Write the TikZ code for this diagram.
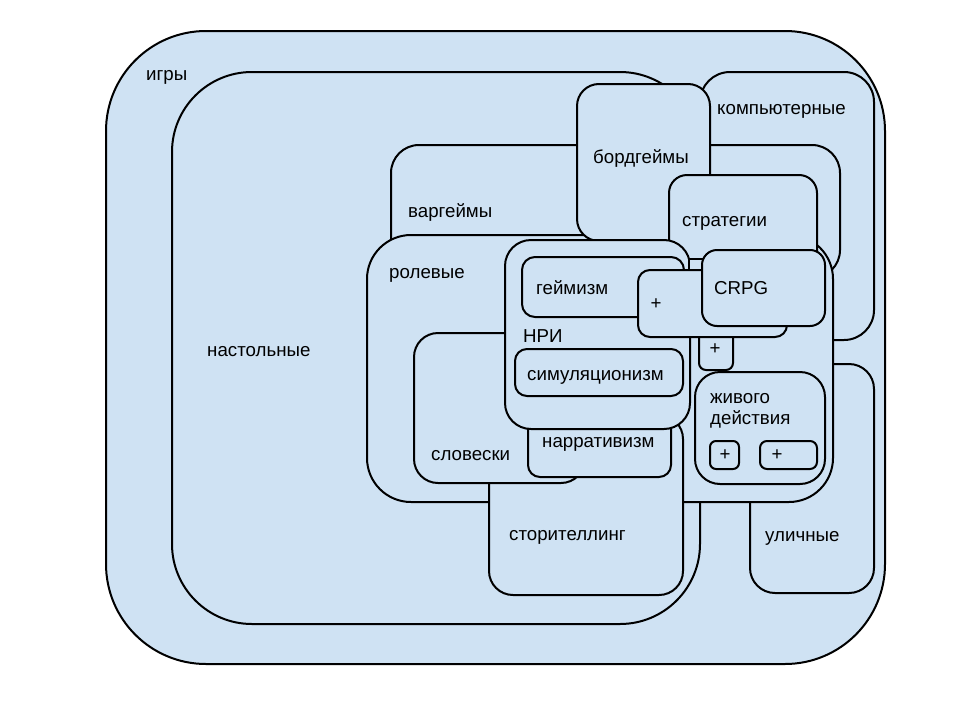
\documentclass[tikz,border=0pt]{standalone}
\usepackage{fontspec}
\setmainfont{Liberation Sans}
\definecolor{boxfill}{HTML}{CFE2F3}
\tikzset{
  box/.style={draw=black, fill=boxfill, line width=2pt, rounded corners=#1},
  lbl/.style={anchor=base west, inner sep=0pt, font=\fontsize{18.7}{22}\selectfont},
  plus/.style={anchor=center, inner sep=0pt, font=\fontsize{18.7}{22}\selectfont}
}
\begin{document}
\begin{tikzpicture}[x=1pt,y=-1pt]
\path[use as bounding box] (0,0) rectangle (960,720);
\fill[white] (0,0) rectangle (960,720);
% games
\draw[box=100] (106,31) rectangle (885,664);
\node[lbl] (igry) at (146,80) {игры};
% tabletop
\draw[box=80] (172,72) rectangle (700,624);
\node[lbl] (nast) at (207,356) {настольные};
% computer
\draw[box=30] (700,72) rectangle (874,340);
\node[lbl] (komp) at (717,114) {компьютерные};
% street
\draw[box=25] (750,364) rectangle (874,593);
\node[lbl] (ulich) at (765,541) {уличные};
% wargames
\draw[box=28] (391,145) rectangle (840,278);
\node[lbl] (varg) at (408,217) {варгеймы};
% role-playing
\draw[box=44] (367,235) rectangle (833,502);
\node[lbl] (rol) at (389,278) {ролевые};
% board games
\draw[box=22] (577,84) rectangle (710,241);
\node[lbl] (bord) at (593,163) {бордгеймы};
% strategies
\draw[box=18] (669,175) rectangle (817,275);
\node[lbl] (strat) at (682,226) {стратегии};
% storytelling
\draw[box=24] (489,415) rectangle (683,595);
\node[lbl] (story) at (509,540) {сторителлинг};
% slovesky
\draw[box=24] (414,333) rectangle (585,483);
\node[lbl] (slov) at (431,460) {словески};
% narrativism
\draw[box=12] (528,410) rectangle (671,477);
\node[lbl] (narr) at (542,447) {нарративизм};
% NRI
\draw[box=26] (505,240) rectangle (690,429);
\node[lbl] (nri) at (523,342) {НРИ};
% gamism
\draw[box=13] (522,257) rectangle (684,317);
\node[lbl] (gam) at (536,294) {геймизм};
% simulationism
\draw[box=12] (515,349) rectangle (683,396);
\node[lbl] (sim) at (527,380) {симуляционизм};
% small hidden box
\draw[box=0] (689,259) rectangle (760,300);
% plus box 2
\draw[box=7] (699,320) rectangle (733,370);
\node[plus] (p2) at (715,349) {+};
% plus box 1
\draw[box=12] (638,270) rectangle (787,337);
\node[plus] (p1) at (656,304) {+};
% CRPG
\draw[box=15] (702,250) rectangle (825,326);
\node[lbl] (crpg) at (714,294) {CRPG};
% LARP
\draw[box=25] (695,372) rectangle (825,484);
\node[lbl] (liveA) at (710,403) {живого};
\node[lbl] (liveB) at (710,424.5) {действия};
\draw[box=6] (710,441) rectangle (739,469);
\node[plus] (p3) at (725,455) {+};
\draw[box=7] (760,441) rectangle (817,469);
\node[plus] (p4) at (777,455) {+};
\end{tikzpicture}
\end{document}
